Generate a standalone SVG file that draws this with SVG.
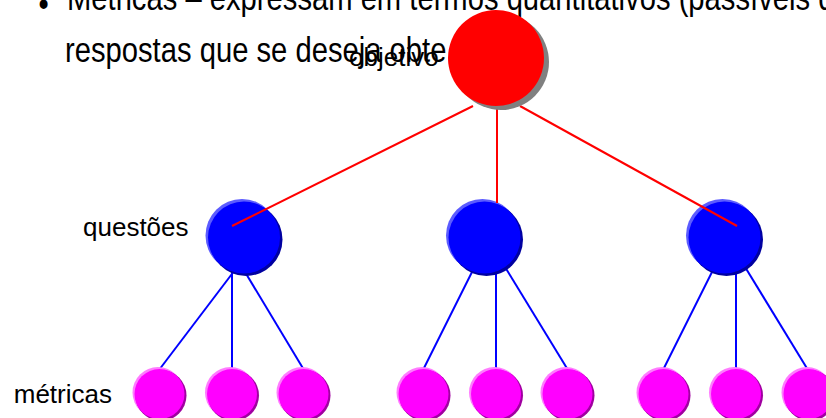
<svg xmlns="http://www.w3.org/2000/svg" xmlns:xlink="http://www.w3.org/1999/xlink" width="826" height="418" viewBox="0 0 826 418">
  <style>
    .txt { font-family: "Liberation Sans", Arial, sans-serif; fill: #000; }
    .body { font-size: 29.2px; }
    .lbl { font-size: 26px; }
    .red-link { stroke: #ff0000; stroke-width: 2; fill: none; }
    .blue-link { stroke: #0000ff; stroke-width: 2; fill: none; }
  </style>
  <defs>
    <!-- shaded ball used for the question nodes -->
    <g id="ball-blue">
      <circle cx="-2" cy="-2" r="36.5" fill="#5c5cff"/>
      <circle cx="2" cy="2" r="36.5" fill="#0000a0"/>
      <circle cx="0" cy="0" r="36" fill="#0000ff"/>
    </g>
    <!-- shaded ball used for the metric nodes -->
    <g id="ball-magenta">
      <circle cx="-1.5" cy="-1.5" r="25.5" fill="#ff7cff"/>
      <circle cx="1.5" cy="1.5" r="25.5" fill="#a000a0"/>
      <circle cx="0" cy="0" r="25" fill="#ff00ff"/>
    </g>
  </defs>

  <!-- bullet text (slightly stretched vertically) -->
  <g class="txt body">
    <g transform="translate(38.5,16) scale(1,1.22)"><text x="0" y="0">•</text></g>
    <g transform="translate(67,10) scale(1,1.22)"><text x="0" y="0">Métricas – expressam em termos quantitativos (passíveis de</text></g>
    <g transform="translate(65,61.5) scale(1,1.22)"><text x="0" y="0">respostas que se deseja obte</text></g>
  </g>

  <!-- level labels -->
  <text class="txt lbl" x="83" y="236">questões</text>
  <text class="txt lbl" x="112" y="403" text-anchor="end">métricas</text>

  <!-- connectors from questions to metrics (under the balls) -->
  <g id="connectors-metrics" class="blue-link">
    <line x1="241" y1="262" x2="159" y2="370"/>
    <line x1="232" y1="262" x2="232" y2="370"/>
    <line x1="239" y1="262" x2="304" y2="370"/>
    <line x1="477" y1="262" x2="423" y2="370"/>
    <line x1="496" y1="262" x2="496" y2="370"/>
    <line x1="502" y1="262" x2="568" y2="370"/>
    <line x1="717" y1="262" x2="663" y2="370"/>
    <line x1="736" y1="262" x2="736" y2="370"/>
    <line x1="742" y1="262" x2="808" y2="370"/>
  </g>

  <!-- metric nodes -->
  <g id="metrica-1"><use xlink:href="#ball-magenta" x="159.5" y="394"/></g>
  <g id="metrica-2"><use xlink:href="#ball-magenta" x="232" y="394"/></g>
  <g id="metrica-3"><use xlink:href="#ball-magenta" x="303.5" y="394"/></g>
  <g id="metrica-4"><use xlink:href="#ball-magenta" x="423.5" y="394"/></g>
  <g id="metrica-5"><use xlink:href="#ball-magenta" x="496" y="394"/></g>
  <g id="metrica-6"><use xlink:href="#ball-magenta" x="567.5" y="394"/></g>
  <g id="metrica-7"><use xlink:href="#ball-magenta" x="663.5" y="394"/></g>
  <g id="metrica-8"><use xlink:href="#ball-magenta" x="736" y="394"/></g>
  <g id="metrica-9"><use xlink:href="#ball-magenta" x="808.5" y="394"/></g>

  <!-- question nodes -->
  <g id="questao-1"><use xlink:href="#ball-blue" x="244" y="237.5"/></g>
  <g id="questao-2"><use xlink:href="#ball-blue" x="484.5" y="237.5"/></g>
  <g id="questao-3"><use xlink:href="#ball-blue" x="724.5" y="237.5"/></g>

  <!-- connectors from goal to questions (drawn over the balls) -->
  <g id="connectors-questions" class="red-link">
    <line x1="473" y1="106" x2="232" y2="226"/>
    <line x1="497" y1="106" x2="497" y2="203"/>
    <line x1="520" y1="106" x2="737" y2="226"/>
  </g>

  <!-- goal node -->
  <g id="objetivo">
    <circle cx="501" cy="62" r="48" fill="#808080"/>
    <circle cx="496" cy="58" r="48" fill="#ff0000"/>
    <text class="txt lbl" x="349" y="66">objetivo</text>
  </g>
</svg>
